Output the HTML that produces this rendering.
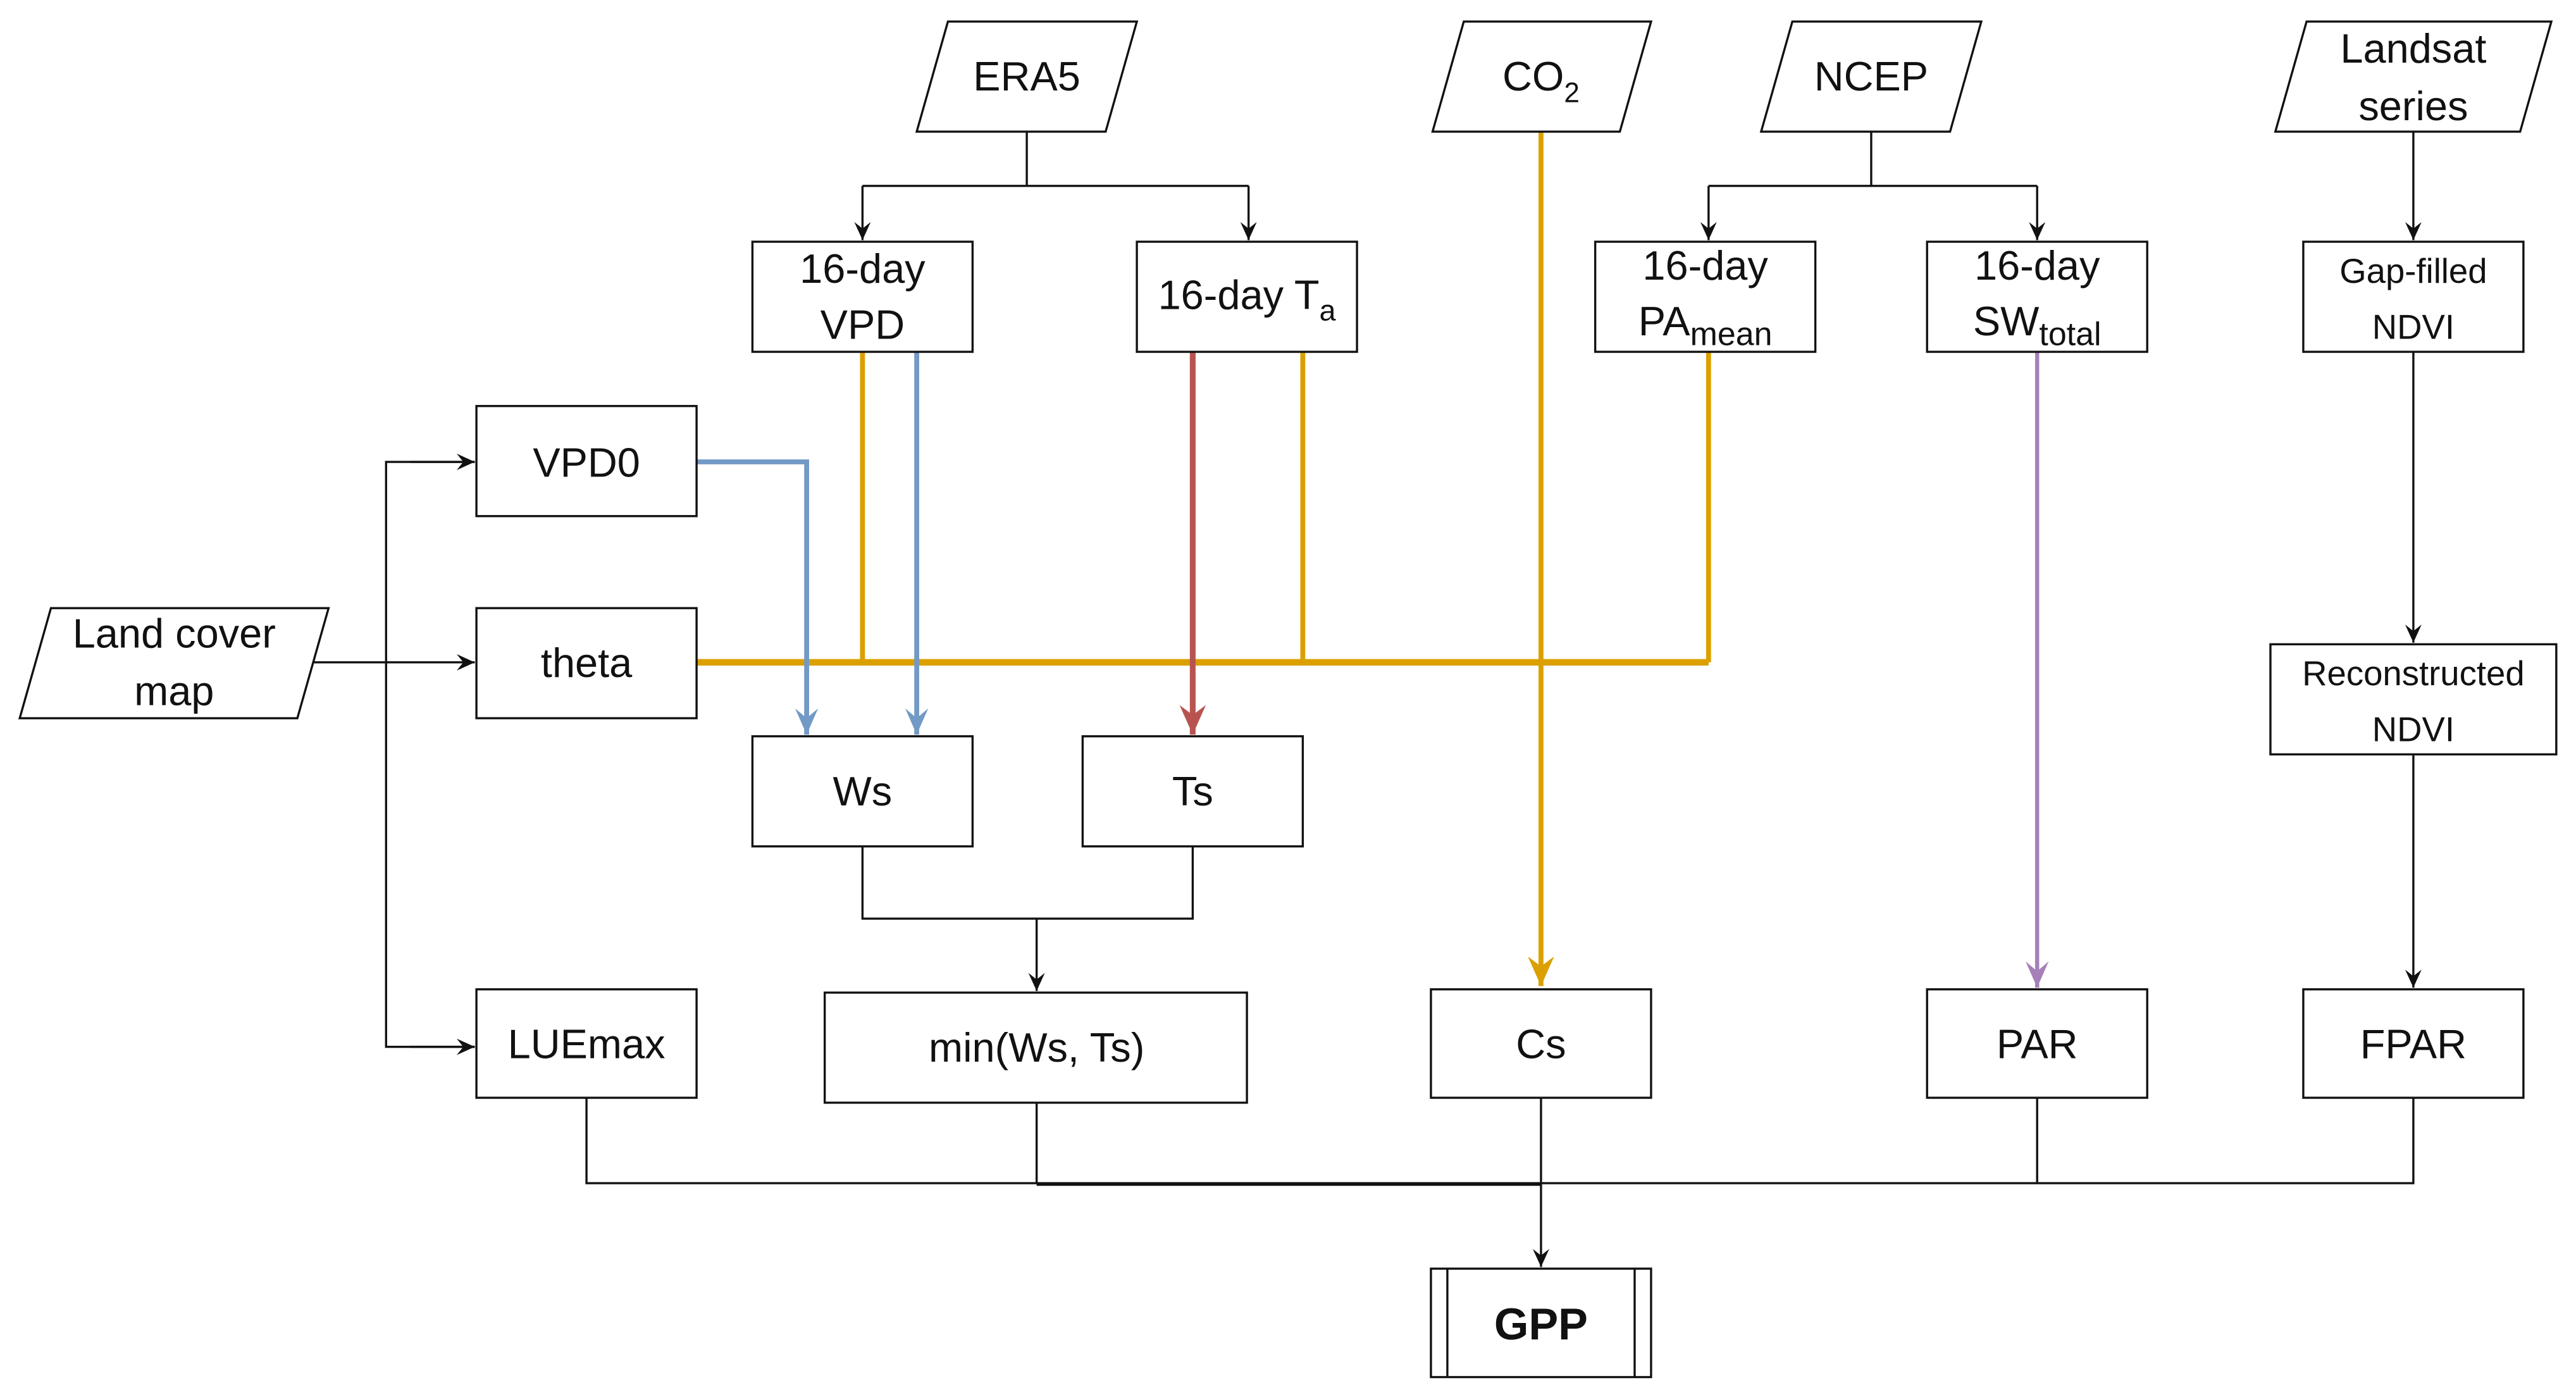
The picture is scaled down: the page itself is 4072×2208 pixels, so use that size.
<!DOCTYPE html>
<html><head><meta charset="utf-8"><style>
html,body{margin:0;padding:0;background:#fff;}
svg{display:block;}
text{font-family:"Liberation Sans",Arial,sans-serif;fill:#111;}
</style></head><body>
<svg width="4072" height="2208" viewBox="0 0 1568 850" xmlns="http://www.w3.org/2000/svg">
<defs>
<marker id="ak" markerWidth="12" markerHeight="13" refX="6" refY="12" markerUnits="userSpaceOnUse" viewBox="0 0 12 13"><path d="M1,1 L6,12 L11,1 L6,5 Z" fill="#111"/></marker>
<marker id="akr" markerWidth="13" markerHeight="12" refX="12" refY="6" markerUnits="userSpaceOnUse" viewBox="0 0 13 12"><path d="M1,1 L12,6 L1,11 L5,6 Z" fill="#111"/></marker>
<marker id="ab" markerWidth="16" markerHeight="18" refX="8" refY="17" markerUnits="userSpaceOnUse" viewBox="0 0 16 18"><path d="M1,1 L8,17 L15,1 L8,7 Z" fill="#7399c6"/></marker>
<marker id="ar" markerWidth="18" markerHeight="20" refX="9" refY="19" markerUnits="userSpaceOnUse" viewBox="0 0 18 20"><path d="M1,1 L9,19 L17,1 L9,7 Z" fill="#b85450"/></marker>
<marker id="ao" markerWidth="18" markerHeight="20" refX="9" refY="19" markerUnits="userSpaceOnUse" viewBox="0 0 18 20"><path d="M1,1 L9,19 L17,1 L9,7 Z" fill="#dba000"/></marker>
<marker id="ap" markerWidth="16" markerHeight="18" refX="8" refY="17" markerUnits="userSpaceOnUse" viewBox="0 0 16 18"><path d="M1,1 L8,17 L15,1 L8,7 Z" fill="#a680b8"/></marker>
</defs>
<rect width="1568" height="850" fill="#fff"/>

<g stroke="#111" stroke-width="1.3" fill="none">
<path d="M625,80 V113 M525,113 H760"/>
<path d="M525,113 V146" marker-end="url(#ak)"/>
<path d="M760,113 V146" marker-end="url(#ak)"/>
<path d="M1139,80 V113 M1040,113 H1240"/>
<path d="M1040,113 V146" marker-end="url(#ak)"/>
<path d="M1240,113 V146" marker-end="url(#ak)"/>
<path d="M1469,80 V146" marker-end="url(#ak)"/>
<path d="M1469,214 V391" marker-end="url(#ak)"/>
<path d="M1469,459 V601" marker-end="url(#ak)"/>
<path d="M190,403 H289" marker-end="url(#akr)"/>
<path d="M289,281 H235 V637 H289" />
<path d="M250,281 H289" marker-end="url(#akr)"/>
<path d="M250,637 H289" marker-end="url(#akr)"/>
<path d="M525,515 V559 H726 V515"/>
<path d="M631,559 V603" marker-end="url(#ak)"/>
<path d="M357,668 V720 H1469 V668"/>
<path d="M631,671 V720"/>
<path d="M1240,668 V720"/>
<path d="M938,668 V771" marker-end="url(#ak)"/>
<path d="M631,720.5 H938" stroke-width="2.2"/>
</g>

<g fill="none">
<path d="M525,214 V403 M793,214 V403 M1040,214 V403 M424,403 H1040" stroke="#dba000" stroke-width="3"/>
<path d="M424,403 H1040" stroke="#dba000" stroke-width="4"/>
<path d="M938,80 V600" stroke="#dba000" stroke-width="3" marker-end="url(#ao)"/>
<path d="M424,281 H491 V447" stroke="#7399c6" stroke-width="3" marker-end="url(#ab)"/>
<path d="M558,214 V447" stroke="#7399c6" stroke-width="3" marker-end="url(#ab)"/>
<path d="M726,214 V447" stroke="#b85450" stroke-width="3.5" marker-end="url(#ar)"/>
<path d="M1240,214 V601" stroke="#a680b8" stroke-width="2.5" marker-end="url(#ap)"/>
</g>

<g fill="#fff" stroke="#111" stroke-width="1.3">
<polygon points="577,13 692,13 673,80 558,80"/>
<polygon points="891,13 1005,13 986,80 872,80"/>
<polygon points="1091,13 1206,13 1187,80 1072,80"/>
<polygon points="1404,13 1553,13 1534,80 1385,80"/>
<polygon points="31,370 200,370 181,437 12,437"/>
</g>

<g fill="#fff" stroke="#111" stroke-width="1.3">
<rect x="458" y="147" width="134" height="67"/>
<rect x="692" y="147" width="134" height="67"/>
<rect x="971" y="147" width="134" height="67"/>
<rect x="1173" y="147" width="134" height="67"/>
<rect x="1402" y="147" width="134" height="67"/>
<rect x="290" y="247" width="134" height="67"/>
<rect x="290" y="370" width="134" height="67"/>
<rect x="1382" y="392" width="174" height="67"/>
<rect x="458" y="448" width="134" height="67"/>
<rect x="659" y="448" width="134" height="67"/>
<rect x="290" y="602" width="134" height="66"/>
<rect x="502" y="604" width="257" height="67"/>
<rect x="871" y="602" width="134" height="66"/>
<rect x="1173" y="602" width="134" height="66"/>
<rect x="1402" y="602" width="134" height="66"/>
<rect x="871" y="772" width="134" height="66"/>
<path d="M881,772 V838 M995,772 V838"/>
</g>

<g font-size="25" text-anchor="middle">
<text x="625" y="55">ERA5</text>
<text x="938" y="55">CO<tspan font-size="17" dy="7">2</tspan></text>
<text x="1139" y="55">NCEP</text>
<text x="1469" y="38">Landsat</text>
<text x="1469" y="73">series</text>
<text x="106" y="394">Land cover</text>
<text x="106" y="429">map</text>
<text x="525" y="172">16-day</text>
<text x="525" y="206">VPD</text>
<text x="759" y="188">16-day T<tspan font-size="18" dy="7">a</tspan></text>
<text x="1038" y="170">16-day</text>
<text x="1038" y="204">PA<tspan font-size="20" dy="6">mean</tspan></text>
<text x="1240" y="170">16-day</text>
<text x="1240" y="204">SW<tspan font-size="20" dy="6">total</tspan></text>
<text x="1469" y="172" font-size="21">Gap-filled</text>
<text x="1469" y="206" font-size="21">NDVI</text>
<text x="357" y="290">VPD0</text>
<text x="357" y="412">theta</text>
<text x="1469" y="417" font-size="21">Reconstructed</text>
<text x="1469" y="451" font-size="21">NDVI</text>
<text x="525" y="490">Ws</text>
<text x="726" y="490">Ts</text>
<text x="357" y="644">LUEmax</text>
<text x="631" y="646">min(Ws, Ts)</text>
<text x="938" y="644">Cs</text>
<text x="1240" y="644">PAR</text>
<text x="1469" y="644">FPAR</text>
<text x="938" y="815" font-weight="bold" font-size="27">GPP</text>
</g>
</svg>
</body></html>
